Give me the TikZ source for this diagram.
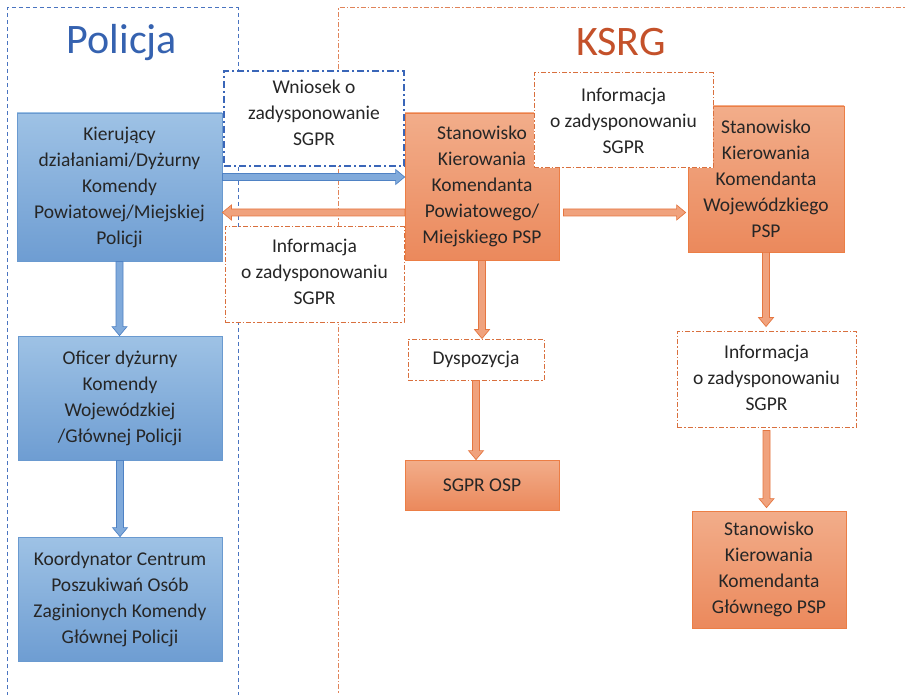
\documentclass[tikz,border=0pt]{standalone}
\usepackage{fontspec}
\setmainfont{Carlito}
\usetikzlibrary{calc}
\definecolor{txt}{HTML}{262626}
\definecolor{polblue}{HTML}{3562B0}
\definecolor{ksrg}{HTML}{C4512A}
\definecolor{framebl}{HTML}{4A74C0}
\definecolor{frameor}{HTML}{E0845A}
\definecolor{bluetop}{HTML}{9EC2E5}
\definecolor{bluebot}{HTML}{6E9DD2}
\definecolor{bluebd}{HTML}{6A9AD0}
\definecolor{ortop}{HTML}{F2AD8A}
\definecolor{orbot}{HTML}{EB895C}
\definecolor{orbd}{HTML}{EC7E45}
\definecolor{ordash}{HTML}{D9703E}
\definecolor{wdash}{HTML}{3A66B8}
\definecolor{blarfill}{HTML}{80AADB}
\definecolor{blarbd}{HTML}{4F82C4}
\definecolor{orarfill}{HTML}{F0A27D}
\definecolor{orarbd}{HTML}{E57640}
\newcommand\vblock[3]{\path[#3] let \p1=(#1), \p2=(#2) in
  (\x1-3.5pt,\y1) -- (\x1+3.5pt,\y1) -- (\x1+3.5pt,\y2+9pt) -- (\x1+7.5pt,\y2+9pt)
  -- (\x1,\y2) -- (\x1-7.5pt,\y2+9pt) -- (\x1-3.5pt,\y2+9pt) -- cycle;}
\newcommand\rblock[3]{\path[#3] let \p1=(#1), \p2=(#2) in
  (\x1,\y1+3.5pt) -- (\x1,\y1-3.5pt) -- (\x2-9pt,\y1-3.5pt) -- (\x2-9pt,\y1-7.5pt)
  -- (\x2,\y1) -- (\x2-9pt,\y1+7.5pt) -- (\x2-9pt,\y1+3.5pt) -- cycle;}
\newcommand\lblock[3]{\path[#3] let \p1=(#1), \p2=(#2) in
  (\x1,\y1+3.5pt) -- (\x1,\y1-3.5pt) -- (\x2+9pt,\y1-3.5pt) -- (\x2+9pt,\y1-7.5pt)
  -- (\x2,\y1) -- (\x2+9pt,\y1+7.5pt) -- (\x2+9pt,\y1+3.5pt) -- cycle;}
\begin{document}
\begin{tikzpicture}[x=1pt,y=-1pt,
  every node/.style={font=\fontsize{19.5}{26}\selectfont, text=txt, align=center, inner sep=0pt},
  bluebox/.style={draw=bluebd, line width=0.8pt, top color=bluetop, bottom color=bluebot},
  orangebox/.style={draw=orbd, line width=0.8pt, top color=ortop, bottom color=orbot},
  infobox/.style={draw=ordash, fill=white, line width=1pt, dash pattern=on 5pt off 2pt on 1.5pt off 2pt},
  reqbox/.style={draw=wdash, fill=white, line width=1.4pt, dash pattern=on 7pt off 3pt on 2pt off 3pt},
  bluearrow/.style={fill=blarfill, draw=blarbd, line width=0.7pt},
  orarrow/.style={fill=orarfill, draw=orarbd, line width=0.7pt},
  title/.style={font=\fontsize{42}{42}\selectfont}]
\useasboundingbox (0,0) rectangle (905,695);
\fill[white] (0,0) rectangle (905,695);
% frames
\draw[framebl, line width=1pt, dash pattern=on 4pt off 3pt] (7,710) -- (7,8) -- (238,8) -- (238,710);
\draw[frameor, line width=1pt, dash pattern=on 5pt off 2pt on 1.5pt off 2pt] (338,710) -- (338,8) -- (920,8);
% titles
\node[title, text=polblue] (tpol) at (122,43) {Policja};
\node[title, text=ksrg] (tksrg) at (621,42) {KSRG};
% police boxes
\node[bluebox, minimum width=205pt, minimum height=148pt] (b1) at (119.5,187)
  {Kierujący\\działaniami/Dyżurny\\Komendy\\Powiatowej/Miejskiej\\Policji};
\node[bluebox, minimum width=204pt, minimum height=124pt] (b2) at (120,398)
  {Oficer dyżurny\\Komendy\\Wojewódzkiej\\/Głównej Policji};
\node[bluebox, minimum width=204pt, minimum height=124pt] (b3) at (120,599)
  {Koordynator Centrum\\Poszukiwań Osób\\Zaginionych Komendy\\Głównej Policji};
% fire service boxes
\node[orangebox, minimum width=154pt, minimum height=147pt] (o1) at (482,186.5)
  {Stanowisko\\Kierowania\\Komendanta\\Powiatowego/\\Miejskiego PSP};
\node[orangebox, minimum width=156pt, minimum height=146pt] (o2) at (766,179)
  {Stanowisko\\Kierowania\\Komendanta\\Wojewódzkiego\\PSP};
\node[orangebox, minimum width=154pt, minimum height=50pt] (o3) at (482,485) {SGPR OSP};
\node[orangebox, minimum width=154pt, minimum height=117pt] (o4) at (769,569.5)
  {Stanowisko\\Kierowania\\Komendanta\\Głównego PSP};
% arrows
\vblock{b1.south}{b2.north}{bluearrow}
\vblock{b2.south}{b3.north}{bluearrow}
\rblock{[yshift=10pt]b1.east}{o1.west}{bluearrow}
\lblock{[yshift=-26pt]o1.west}{b1.east}{orarrow}
\rblock{[xshift=4pt,yshift=-26pt]o1.east}{[xshift=-2pt]o2.west}{orarrow}
% text boxes
\node[reqbox, minimum width=180pt, minimum height=95pt] (w) at (314,118.5) {};
\node (wt) at (314,112.5) {Wniosek o\\zadysponowanie\\SGPR};
\node[infobox, minimum width=179pt, minimum height=95pt] (i1) at (314.5,274.5) {};
\node (i1t) at (314.5,271.5) {Informacja\\o zadysponowaniu\\SGPR};
\node[infobox, minimum width=179pt, minimum height=95pt] (i2) at (623.5,120.5)
  {Informacja\\o zadysponowaniu\\SGPR};
\node[infobox, minimum width=136pt, minimum height=41pt] (d) at (476,359.5) {Dyspozycja};
\node[infobox, minimum width=179pt, minimum height=96pt] (i3) at (766.5,379) {};
\node (i3t) at (766.5,377.5) {Informacja\\o zadysponowaniu\\SGPR};
% vertical orange arrows
\vblock{o1.south}{d.north}{orarrow}
\vblock{d.south}{o3.north}{orarrow}
\vblock{o2.south}{[yshift=4pt]i3.north}{orarrow}
\vblock{[yshift=-3pt]i3.south}{[yshift=3pt]o4.north}{orarrow}
\end{tikzpicture}
\end{document}
